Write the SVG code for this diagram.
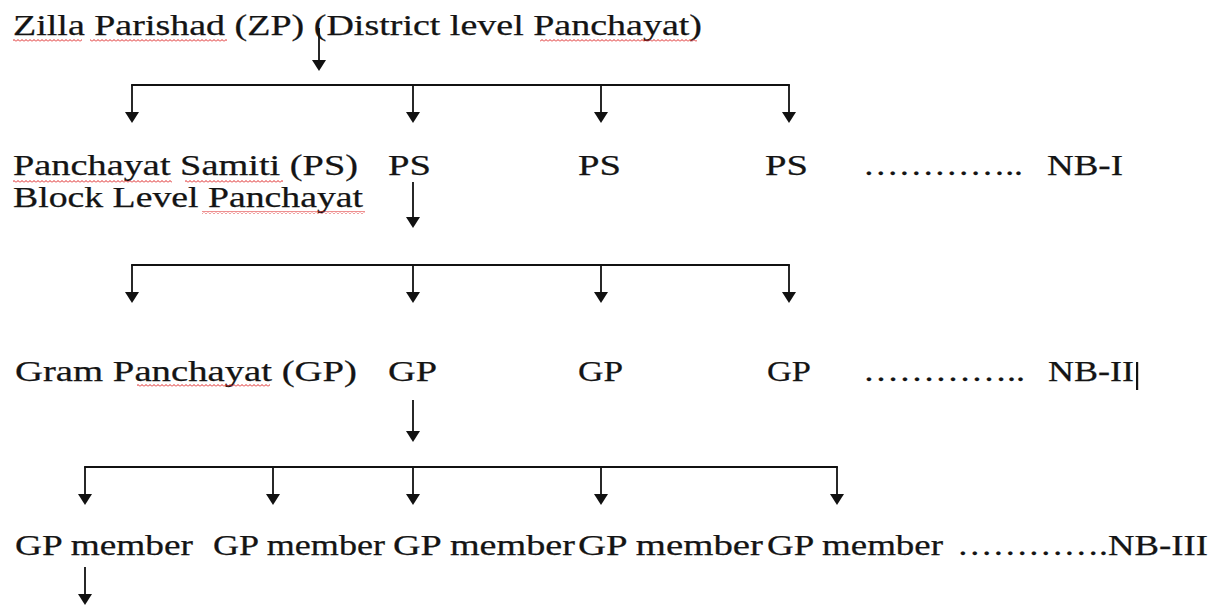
<svg xmlns="http://www.w3.org/2000/svg" width="1232" height="606" viewBox="0 0 1232 606">
<defs>
<style>
text{font-family:"Liberation Serif","Times New Roman",serif;font-size:28.5px;fill:#141414;stroke:#141414;stroke-width:0.25;}
.c{fill:none;stroke:#111;stroke-width:1.8;}
.a{marker-end:url(#ah);}
.sq{fill:url(#wave);}
</style>
<marker id="ah" viewBox="0 0 11 14" refX="3" refY="7" markerWidth="11" markerHeight="14" markerUnits="userSpaceOnUse" orient="auto">
<path d="M0,0 L11,7 L0,14 z" fill="#111"/>
</marker>
<pattern id="wave" width="4" height="3" patternUnits="userSpaceOnUse">
<path d="M0,2.5 L2,0.5 L4,2.5" fill="none" stroke="#d22" stroke-width="1"/>
</pattern>
</defs>
<rect width="1232" height="606" fill="#fff"/>

<g id="zp">
<text x="13" y="35" textLength="689" lengthAdjust="spacingAndGlyphs">Zilla Parishad (ZP) (District level Panchayat)</text>
<rect class="sq" x="13" y="39" width="69" height="3"/>
<rect class="sq" x="90" y="39" width="137" height="3"/>
<rect class="sq" x="540" y="39" width="157" height="3"/>
</g>

<g id="ps-label">
<text x="13" y="175" textLength="345" lengthAdjust="spacingAndGlyphs">Panchayat Samiti (PS)</text>
<text x="13" y="207" textLength="350" lengthAdjust="spacingAndGlyphs">Block Level Panchayat</text>
<rect class="sq" x="13" y="180" width="159" height="3"/>
<rect class="sq" x="185" y="180" width="98" height="3"/>
<rect class="sq" x="202" y="211" width="163" height="3"/>
</g>
<g id="ps1"><text x="388" y="175" textLength="43" lengthAdjust="spacingAndGlyphs">PS</text></g>
<g id="ps2"><text x="578" y="175" textLength="43" lengthAdjust="spacingAndGlyphs">PS</text></g>
<g id="ps3"><text x="765" y="175" textLength="43" lengthAdjust="spacingAndGlyphs">PS</text></g>
<g id="nb1">
<text x="863" y="175" textLength="160" lengthAdjust="spacingAndGlyphs">…………..</text>
<text x="1047" y="175" textLength="76" lengthAdjust="spacingAndGlyphs">NB-I</text>
</g>

<g id="gp-label">
<text x="15" y="381" textLength="342" lengthAdjust="spacingAndGlyphs">Gram Panchayat (GP)</text>
<rect class="sq" x="137" y="384" width="133" height="3"/>
</g>
<g id="gp1"><text x="388" y="381" textLength="49" lengthAdjust="spacingAndGlyphs">GP</text></g>
<g id="gp2"><text x="578" y="381" textLength="45" lengthAdjust="spacingAndGlyphs">GP</text></g>
<g id="gp3"><text x="767" y="381" textLength="44" lengthAdjust="spacingAndGlyphs">GP</text></g>
<g id="nb2">
<text x="863" y="381" textLength="162" lengthAdjust="spacingAndGlyphs">…………..</text>
<text x="1048" y="381" textLength="86" lengthAdjust="spacingAndGlyphs">NB-II</text>
<rect x="1136" y="362" width="2.2" height="28" fill="#111"/>
</g>

<g id="m1"><text x="15" y="555" textLength="178" lengthAdjust="spacingAndGlyphs">GP member</text></g>
<g id="m2"><text x="213" y="555" textLength="172" lengthAdjust="spacingAndGlyphs">GP member</text></g>
<g id="m3"><text x="393" y="555" textLength="182" lengthAdjust="spacingAndGlyphs">GP member</text></g>
<g id="m4"><text x="578" y="555" textLength="185" lengthAdjust="spacingAndGlyphs">GP member</text></g>
<g id="m5"><text x="767" y="555" textLength="176" lengthAdjust="spacingAndGlyphs">GP member</text></g>
<g id="nb3">
<text x="957" y="555" textLength="151" lengthAdjust="spacingAndGlyphs">………….</text>
<text x="1108" y="555" textLength="100" lengthAdjust="spacingAndGlyphs">NB-III</text>
</g>

<g id="connectors">
<path class="c a" d="M319,28 V63"/>
<path class="c" d="M131.1,85 H789.9"/>
<path class="c a" d="M132,85 V115"/>
<path class="c a" d="M413,85 V115"/>
<path class="c a" d="M601,85 V115"/>
<path class="c a" d="M789,85 V115"/>

<path class="c a" d="M413,182 V220"/>
<path class="c" d="M131.1,265 H789.9"/>
<path class="c a" d="M132,265 V295"/>
<path class="c a" d="M413,265 V295"/>
<path class="c a" d="M601,265 V295"/>
<path class="c a" d="M789,265 V295"/>

<path class="c a" d="M413,400 V434"/>
<path class="c" d="M84.1,467 H837.9"/>
<path class="c a" d="M85,467 V497"/>
<path class="c a" d="M273,467 V497"/>
<path class="c a" d="M413,467 V497"/>
<path class="c a" d="M601,467 V497"/>
<path class="c a" d="M837,467 V497"/>

<path class="c a" d="M85,567 V597"/>
</g>
</svg>
